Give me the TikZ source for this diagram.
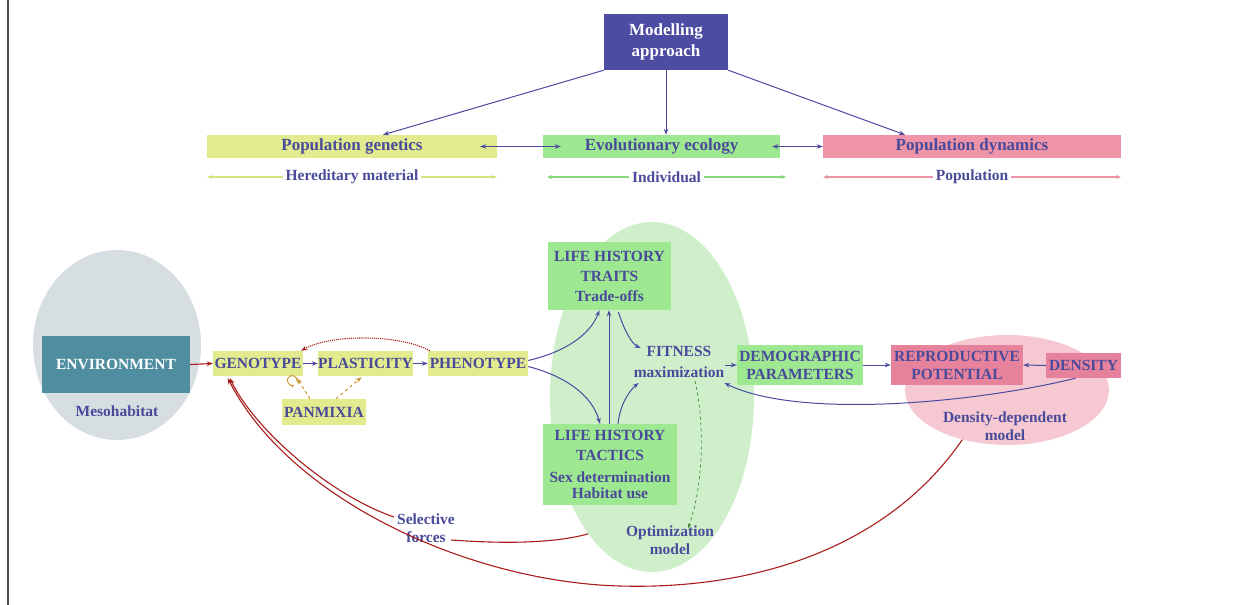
\documentclass[tikz,border=0pt]{standalone}
\usepackage{fontspec}
\setmainfont{Liberation Serif}
\usetikzlibrary{calc,arrows.meta,shapes.geometric}
\definecolor{txt}{HTML}{4A4A9A}
\definecolor{modc}{HTML}{4C4CA2}
\definecolor{yg}{HTML}{E2EC8E}
\definecolor{gr}{HTML}{9DE890}
\definecolor{pk}{HTML}{EE93A8}
\definecolor{pkd}{HTML}{E7829C}
\definecolor{pkell}{HTML}{F6C8D2}
\definecolor{grell}{HTML}{CFEFCB}
\definecolor{gyell}{HTML}{D6DEE2}
\definecolor{teal}{HTML}{4E8EA0}
\definecolor{redc}{HTML}{A81C1C}
\definecolor{orc}{HTML}{C8922A}
\definecolor{dgr}{HTML}{3C8C3C}
\definecolor{hercol}{HTML}{CFE380}
\definecolor{indcol}{HTML}{86D878}
\definecolor{popcol}{HTML}{EC93A8}
\definecolor{arrb}{HTML}{4A4AA0}
\begin{document}
\begin{tikzpicture}[x=1pt,y=-1pt,
  font=\bfseries\fontsize{15.5}{20}\selectfont,
  box/.style={rectangle, inner sep=0pt, text=txt, align=center},
  bigf/.style={font=\bfseries\fontsize{17}{20}\selectfont},
  lbl/.style={text=txt, align=center, inner sep=1pt},
  tip/.style={-{Stealth[length=6pt,width=4.5pt]}},
  conn/.style={draw=arrb, line width=1pt, tip},
  rconn/.style={draw=redc, line width=1.1pt, tip},
  oconn/.style={draw=orc, line width=1pt, dashed, tip},
  rangeline/.style={line width=1.3pt, {Stealth[length=5pt,width=4pt]}-{Stealth[length=5pt,width=4pt]}},
  ell/.style={ellipse, inner sep=0pt, draw=none}]
\useasboundingbox (0,0) rectangle (1245,605);
\draw[black!70, line width=1.5pt] (8,0) -- (8,605);

% ---------- top part ----------
\node[box, bigf, fill=modc, text=white, minimum width=124pt, minimum height=56pt] (mod) at (666,42) {Modelling\\[1pt]approach};
\node[box, bigf, fill=yg, minimum width=290pt, minimum height=23pt] (pg) at (352,146.5) {Population genetics};
\node[box, bigf, fill=gr, minimum width=237pt, minimum height=23pt] (ee) at (661.5,146.5) {Evolutionary ecology};
\node[box, bigf, fill=pk, minimum width=298pt, minimum height=23pt] (pd) at (972,146.5) {Population dynamics};

\draw[conn] (mod.south west) -- ($(pg.north)+(31,0)$);
\draw[conn] (mod.south) -- (mod.south |- ee.north);
\draw[conn] (mod.south east) -- ($(pd.north)+(-67,0)$);
\draw[draw=arrb, line width=1.2pt, {Stealth[length=6pt,width=4.5pt]}-{Stealth[length=6pt,width=4.5pt]}] ($(pg.east)+(-17,0)$) -- ($(ee.west)+(18,0)$);
\draw[draw=arrb, line width=1.2pt, {Stealth[length=6pt,width=4.5pt]}-{Stealth[length=6pt,width=4.5pt]}] ($(ee.east)+(-8,0)$) -- (pd.west);

\coordinate (h1) at (207,177); \coordinate (h2) at (497,177);
\coordinate (i1) at (547,177); \coordinate (i2) at (786,177);
\coordinate (p1) at (823,177); \coordinate (p2) at (1121,177);
\draw[rangeline, hercol] (h1) -- node[lbl, fill=white, inner sep=3pt] (hm) {Hereditary material} (h2);
\draw[rangeline, indcol] (i1) -- node[lbl, fill=white, inner sep=3pt] (ind) {Individual} (i2);
\draw[rangeline, popcol] (p1) -- node[lbl, fill=white, inner sep=3pt] (pop) {Population} (p2);

% ---------- background ellipses ----------
\node[ell, fill=gyell, minimum width=168pt, minimum height=190pt] (gyE) at (117,345) {};
\node[ell, fill=grell, minimum width=204pt, minimum height=350pt] (grE) at (652,397) {};
\node[ell, fill=pkell, minimum width=204pt, minimum height=110pt] (pkE) at (1007,390) {};

% ---------- nodes ----------
\node[box, fill=teal, text=white, minimum width=148pt, minimum height=57pt] (env) at (116,364.5) {ENVIRONMENT};
\node[lbl] (meso) at (117,411) {Mesohabitat};
\node[box, fill=yg, minimum width=90pt, minimum height=25pt] (geno) at (258,363.5) {GENOTYPE};
\node[box, fill=yg, minimum width=95pt, minimum height=25pt] (plast) at (365.5,363.5) {PLASTICITY};
\node[box, fill=yg, minimum width=100pt, minimum height=25pt] (pheno) at (478,363.5) {PHENOTYPE};
\node[box, fill=yg, minimum width=84pt, minimum height=26pt] (pan) at (324,412) {PANMIXIA};

\node[box, fill=gr, minimum width=123pt, minimum height=68pt] (lht) at (609.5,276) {LIFE HISTORY\\TRAITS\\Trade-offs};
\node[box, fill=gr, minimum width=134pt, minimum height=81pt] (lhtac) at (610,464.5) {LIFE HISTORY\\TACTICS\\[2pt]Sex determination\\[-4pt]Habitat use};
\node[lbl, font=\bfseries\fontsize{15.5}{21}\selectfont] (fit) at (679,362) {FITNESS\\maximization};
\node[box, fill=gr, minimum width=126pt, minimum height=40pt] (demo) at (800,365) {DEMOGRAPHIC\\[-2pt]PARAMETERS};
\node[box, fill=pkd, minimum width=132pt, minimum height=40pt] (repro) at (957,365) {REPRODUCTIVE\\[-2pt]POTENTIAL};
\node[box, fill=pkd, minimum width=75pt, minimum height=25pt] (dens) at (1083.5,365.5) {DENSITY};
\node[lbl] (ddm) at (1005,426) {Density-dependent\\[-2pt]model};
\node[lbl] (opt) at (670,540) {Optimization\\[-2pt]model};
\node[lbl] (sel) at (426,528) {Selective\\[-2pt]forces};

% ---------- connectors ----------
\draw[rconn] (env.east) -- (geno.west);
\draw[conn] (geno.east) -- (plast.west);
\draw[conn] (plast.east) -- (pheno.west);
\draw[draw=redc, line width=1.1pt, densely dotted, tip] ($(pheno.north west)+(2,0)$) .. controls (400,334) and (330,334) .. ($(geno.north east)+(-2,0)$);

\draw[oconn] ($(pan.north)+(-14,0)$) -- ($(geno.south)+(39,2)$);
\draw[oconn] ($(pan.north)+(12,0)$) -- ($(plast.south)+(-4,1)$);
\draw[draw=orc, line width=0.9pt, -{Stealth[length=3pt,width=3pt]}] ($(geno.south)+(39,6)$) arc[start angle=-20, end angle=290, radius=5pt];

\draw[conn] ($(pheno.east)+(0,-3)$) .. controls (565,352) and (590,335) .. ($(lht.south)+(-10,0)$);
\draw[conn] ($(pheno.east)+(0,3)$) .. controls (565,376) and (592,395) .. ($(lhtac.north)+(-10,0)$);
\draw[conn] ($(lhtac.north)+(-1,0)$) -- ($(lhtac.north |- lht.south)+(-1,0)$);
\draw[conn] ($(lht.south)+(9,2)$) .. controls (624,330) and (632,344) .. ($(fit.west)+(8,-14)$);
\draw[conn] ($(lhtac.north)+(8,0)$) .. controls (620,404) and (630,390) .. ($(fit.west)+(6,21)$);
\draw[conn] (fit.east |- demo.west) -- (demo.west);
\draw[conn] (demo.east) -- (repro.west);
\draw[conn] (dens.west) -- (repro.east);
\draw[conn] ($(dens.south)+(-8,0)$) .. controls (980,402) and (800,420) .. ($(fit.east)+(-1,21)$);
\draw[draw=dgr, line width=0.7pt, dashed, -{Stealth[length=5pt,width=3.5pt]}] ($(fit.south)+(16,2)$) .. controls (706,430) and (702,490) .. ($(opt.north)+(18,4)$);

\coordinate (selE) at ($(sel.east)+(-5,12)$);
\coordinate (selW) at ($(sel.west)+(-2,-11)$);
\draw[draw=redc, line width=1.1pt] (grE.245) .. controls (545,546) and (480,542) .. (selE);
\draw[rconn] (selW) .. controls (330,495) and (255,430) .. ($(geno.south west)+(17,2)$);
\draw[rconn] (pkE.228) .. controls (890,545) and (760,590) .. (620,586) .. controls (470,582) and (290,500) .. ($(geno.south west)+(15,2)$);
\end{tikzpicture}
\end{document}
